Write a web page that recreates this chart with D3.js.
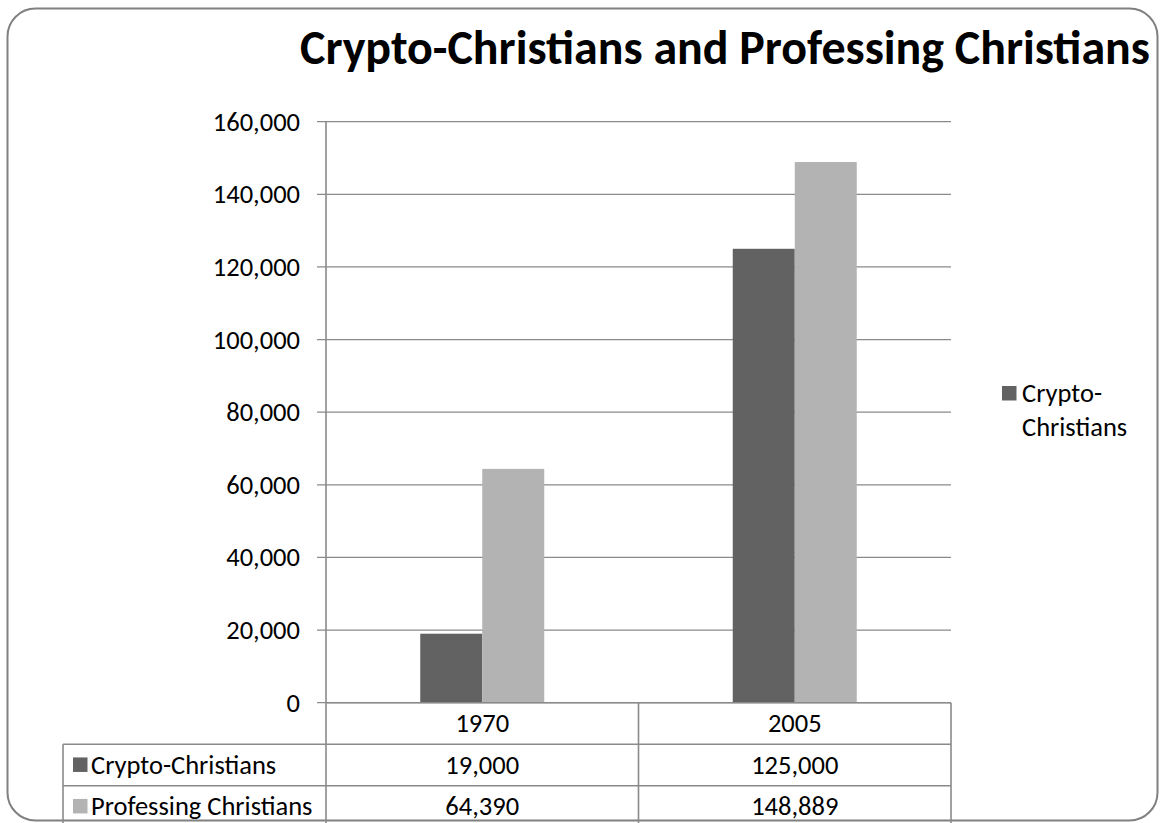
<!DOCTYPE html>
<html>
<head>
<meta charset="utf-8">
<script src="https://cdn.jsdelivr.net/npm/d3@7"></script>
<style>
  html, body { margin: 0; padding: 0; background: #fff; }
  svg { display: block; }
  text { font-family: Carlito, Calibri, Lato, "Open Sans", sans-serif; fill: #000; }
</style>
</head>
<body>
<svg id="chart" width="1161" height="823"></svg>
<script>
// Chart data
const title = "Crypto-Christians and Professing Christians";
const categories = ["1970", "2005"];
const seriesNames = ["Crypto-Christians", "Professing Christians"];
const cryptoChristians = [19000, 125000];
const professingChristians = [64390, 148889];
const yTicks = [0, 20000, 40000, 60000, 80000, 100000, 120000, 140000, 160000];
const legendLines = ["Crypto-", "Christians"];

const seriesValues = [cryptoChristians, professingChristians];
const seriesColors = ["#626262", "#b3b3b3"];
const gridColor = "#8a8a8a";
const textSize = "26.5px";

const svg = d3.select("#chart");

// Rounded frame around the whole chart
svg.append("rect")
  .attr("x", 7.5).attr("y", 8.5)
  .attr("width", 1150).attr("height", 812)
  .attr("rx", 28).attr("ry", 28)
  .attr("fill", "#fff")
  .attr("stroke", "#808080")
  .attr("stroke-width", 2);

// Plot geometry
const plot = { left: 326, right: 951, top: 121.7, bottom: 702.7 };

const x0 = d3.scaleBand()
  .domain(categories)
  .range([plot.left, plot.right])
  .paddingInner(0.6032)
  .paddingOuter(0.3016);

const x1 = d3.scaleBand()
  .domain(seriesNames)
  .range([0, x0.bandwidth()]);

const y = d3.scaleLinear()
  .domain([0, 160000])
  .range([plot.bottom, plot.top]);

// Horizontal gridlines (with short tick stubs left of the axis)
svg.append("g")
  .selectAll("line")
  .data(yTicks)
  .join("line")
  .attr("x1", plot.left - 9).attr("x2", plot.right)
  .attr("y1", d => y(d)).attr("y2", d => y(d))
  .attr("stroke", gridColor)
  .attr("stroke-width", 1.3);

// Y axis labels
const yAxis = d3.axisLeft(y)
  .tickValues(yTicks)
  .tickFormat(d3.format(","))
  .tickSize(0)
  .tickPadding(26);

const yAxisG = svg.append("g")
  .attr("transform", `translate(${plot.left},0)`)
  .call(yAxis);
yAxisG.select(".domain").remove();
yAxisG.selectAll("text")
  .style("font-family", "Carlito, Calibri, Lato, sans-serif")
  .style("font-size", textSize)
  .attr("fill", "#000");

// Bars
const groups = svg.append("g")
  .selectAll("g")
  .data(categories)
  .join("g")
  .attr("transform", c => `translate(${x0(c)},0)`);

groups.selectAll("rect")
  .data((c, i) => seriesNames.map((s, j) => ({ series: s, value: seriesValues[j][i], color: seriesColors[j] })))
  .join("rect")
  .attr("x", d => x1(d.series))
  .attr("y", d => y(d.value))
  .attr("width", x1.bandwidth())
  .attr("height", d => y(0) - y(d.value))
  .attr("fill", d => d.color);

// Data table below the plot
const rowH = 41.5;
const tableTop = plot.bottom;
const tableLeft = 63;
const rowsY = [tableTop, tableTop + rowH, tableTop + 2 * rowH, tableTop + 3 * rowH];
const catBounds = [plot.left, x0.step() + plot.left, plot.right];

const tbl = svg.append("g").attr("stroke", gridColor).attr("stroke-width", 1.6);

// Horizontal table lines
tbl.append("line")
  .attr("x1", plot.left).attr("x2", plot.right)
  .attr("y1", rowsY[0]).attr("y2", rowsY[0]);
[rowsY[1], rowsY[2]].forEach(yy => {
  tbl.append("line")
    .attr("x1", tableLeft).attr("x2", plot.right)
    .attr("y1", yy).attr("y2", yy);
});

// Vertical lines: value axis continues through the table
tbl.append("line")
  .attr("x1", plot.left).attr("x2", plot.left)
  .attr("y1", plot.top).attr("y2", rowsY[3]);
tbl.append("line")
  .attr("x1", catBounds[1]).attr("x2", catBounds[1])
  .attr("y1", rowsY[0]).attr("y2", rowsY[3]);
tbl.append("line")
  .attr("x1", catBounds[2]).attr("x2", catBounds[2])
  .attr("y1", rowsY[0]).attr("y2", rowsY[3]);
tbl.append("line")
  .attr("x1", tableLeft).attr("x2", tableLeft)
  .attr("y1", rowsY[1]).attr("y2", rowsY[3]);

const fmt = d3.format(",");

// Category header row
svg.append("g")
  .selectAll("text")
  .data(categories)
  .join("text")
  .attr("x", c => x0(c) + x0.bandwidth() / 2)
  .attr("y", (rowsY[0] + rowsY[1]) / 2)
  .attr("text-anchor", "middle")
  .attr("dominant-baseline", "central")
  .style("font-size", textSize)
  .text(c => c);

// Series rows: swatch, name, values
seriesNames.forEach((name, j) => {
  const cy = (rowsY[j + 1] + rowsY[j + 2]) / 2;
  svg.append("rect")
    .attr("x", tableLeft + 10).attr("y", cy - 7.5)
    .attr("width", 14.5).attr("height", 14.5)
    .attr("fill", seriesColors[j]);
  svg.append("text")
    .attr("x", tableLeft + 28)
    .attr("y", cy)
    .attr("dominant-baseline", "central")
    .style("font-size", textSize)
    .text(name);
  svg.append("g")
    .selectAll("text")
    .data(categories)
    .join("text")
    .attr("x", c => x0(c) + x0.bandwidth() / 2)
    .attr("y", cy)
    .attr("text-anchor", "middle")
    .attr("dominant-baseline", "central")
    .style("font-size", textSize)
    .text((c, i) => fmt(seriesValues[j][i]));
});

// Legend on the right
const legend = svg.append("g").attr("transform", "translate(1002,386)");
legend.append("rect")
  .attr("width", 14.5).attr("height", 14.5)
  .attr("fill", seriesColors[0]);
legend.selectAll("text")
  .data(legendLines)
  .join("text")
  .attr("x", 20)
  .attr("y", (d, i) => 7 + i * 34)
  .attr("dominant-baseline", "central")
  .style("font-size", textSize)
  .text(d => d);

// Title, sized to span its slot
const titleEl = svg.append("text")
  .attr("x", 725)
  .attr("y", 47)
  .attr("text-anchor", "middle")
  .attr("dominant-baseline", "central")
  .style("font-size", "40px")
  .style("font-weight", "bold")
  .text(title);
const tw = titleEl.node().getComputedTextLength();
titleEl.style("font-size", (40 * 850 / tw).toFixed(2) + "px");
</script>
</body>
</html>
